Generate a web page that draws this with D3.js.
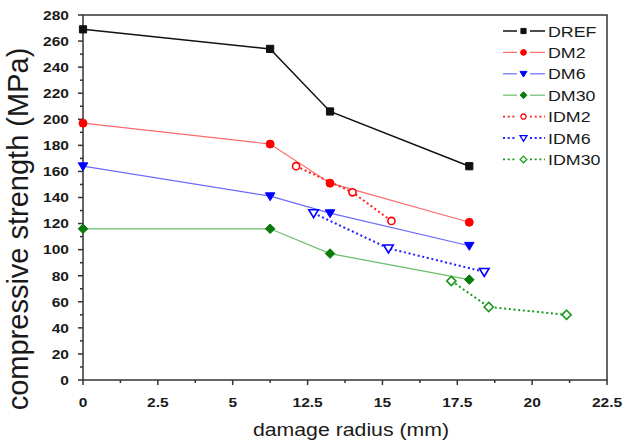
<!DOCTYPE html>
<html>
<head>
<meta charset="utf-8">
<script src="https://cdn.jsdelivr.net/npm/d3@7"></script>
<style>
  body { margin: 0; background: #fff; }
  svg { display: block; font-family: "Liberation Sans", Arial, sans-serif; }
</style>
</head>
<body>
<div id="chart"></div>
<script>
// damage radius (mm), shared by the "DM" series
const radiusDM = [0, 8.75, 13.25, 17.9];
const DREF = [269, 254, 206, 164];
const DM2 = [197, 181, 151, 121];
const DM6 = [164, 141, 128, 103];
const DM30 = [116, 116, 97, 77];

const radiusIDM2 = [11.35, 14.0, 15.3];
const IDM2 = [164, 144, 122];
const radiusIDM6 = [12.7, 15.2, 18.4];
const IDM6 = [128, 101, 83];
const radiusIDM30 = [17.3, 18.55, 21.15];
const IDM30 = [76, 56, 50];

const xTicks = [0, 2.5, 5, 12.5, 15, 17.5, 20, 22.5];
const xMinor = [1.25, 3.75, 8.75, 13.75, 16.25, 18.75, 21.25];
const yTicks = [0, 20, 40, 60, 80, 100, 120, 140, 160, 180, 200, 220, 240, 260, 280];

const series = [
    {name: "DREF", x: radiusDM, y: DREF, color: "#111", line: "#111", width: 1.5, dash: null, shape: "square", r: 3.6, fill: true},
    {name: "DM2", x: radiusDM, y: DM2, color: "#f00", line: "#ff6a6a", width: 1.2, dash: null, shape: "circle", r: 4, fill: true},
    {name: "DM6", x: radiusDM, y: DM6, color: "#00f", line: "#6a6aff", width: 1.2, dash: null, shape: "down", r: 4.8, fill: true},
    {name: "DM30", x: radiusDM, y: DM30, color: "#0a7a0a", line: "#6cbf6c", width: 1.2, dash: null, shape: "diamond", r: 4.8, fill: true},
    {name: "IDM2", x: radiusIDM2, y: IDM2, color: "#f00", line: "#f22", width: 2, dash: "2,2.7", shape: "circle", r: 3.6, fill: false},
    {name: "IDM6", x: radiusIDM6, y: IDM6, color: "#00f", line: "#22f", width: 2, dash: "2,2.7", shape: "down", r: 4.8, fill: false},
    {name: "IDM30", x: radiusIDM30, y: IDM30, color: "#1a9a1a", line: "#1a9a1a", width: 2, dash: "2,2.7", shape: "diamond", r: 4.6, fill: false}
];

const W = 628, H = 447;
const plotLeft = 83, plotRight = 607, plotTop = 15, plotBottom = 380;
const stretch = 1.15;  // text in the original is wider than tall

const svg = d3.select("#chart").append("svg").attr("width", W).attr("height", H);

// broken x axis: 5 -> 12.5 is squeezed into one tick step
const x = d3.scaleLinear().domain([0, 5, 12.5, 22.5]).range([plotLeft, 232.7, 307.6, plotRight]);
const y = d3.scaleLinear().domain([0, 280]).range([plotBottom, plotTop]);

function markerPath(shape, r) {
    if (shape === "down") return `M${-r},${-r * 0.7}L${r},${-r * 0.7}L0,${r * 0.95}Z`;
    if (shape === "diamond") return `M0,${-r}L${r},0L0,${r}L${-r},0Z`;
    if (shape === "square") return `M${-r},${-r}H${r}V${r}H${-r}Z`;
    return d3.symbol().type(d3.symbolCircle).size(Math.PI * r * r)();
}

function addText(g, tx, ty, str, size, anchor, weight) {
    return g.append("text")
        .attr("transform", `translate(${tx},${ty}) scale(${stretch},1)`)
        .attr("text-anchor", anchor)
        .attr("font-size", size)
        .attr("font-weight", weight || "normal")
        .attr("fill", "#1a1a1a")
        .text(str);
}

// frame
svg.append("rect")
    .attr("x", plotLeft).attr("y", plotTop)
    .attr("width", plotRight - plotLeft).attr("height", plotBottom - plotTop)
    .attr("fill", "none").attr("stroke", "#333").attr("stroke-width", 1.5);

// x axis ticks
const xAxis = svg.append("g");
xAxis.selectAll(".maj").data(xTicks).enter().append("line")
    .attr("x1", d => x(d)).attr("x2", d => x(d))
    .attr("y1", plotBottom).attr("y2", plotBottom + 5)
    .attr("stroke", "#333").attr("stroke-width", 1.5);
xAxis.selectAll(".min").data(xMinor).enter().append("line")
    .attr("x1", d => x(d)).attr("x2", d => x(d))
    .attr("y1", plotBottom).attr("y2", plotBottom + 3)
    .attr("stroke", "#333").attr("stroke-width", 1.5);
xTicks.forEach(d => addText(xAxis, x(d), plotBottom + 27, d, 13.5, "middle", "bold"));

// y axis ticks
const yAxis = svg.append("g");
yAxis.selectAll(".maj").data(yTicks).enter().append("line")
    .attr("x1", plotLeft - 5).attr("x2", plotLeft)
    .attr("y1", d => y(d)).attr("y2", d => y(d))
    .attr("stroke", "#333").attr("stroke-width", 1.5);
yAxis.selectAll(".min").data(yTicks.slice(0, -1)).enter().append("line")
    .attr("x1", plotLeft - 3).attr("x2", plotLeft)
    .attr("y1", d => y(d + 10)).attr("y2", d => y(d + 10))
    .attr("stroke", "#333").attr("stroke-width", 1.5);
yTicks.forEach(d => addText(yAxis, plotLeft - 14, y(d) + 4.8, d, 13.5, "end", "bold"));

// axis titles
addText(svg, 351, 436, "damage radius (mm)", 18.5, "middle");
svg.append("text")
    .attr("transform", `translate(28,229) rotate(-90)`)
    .attr("text-anchor", "middle").attr("font-size", 29).attr("fill", "#1a1a1a")
    .text("compressive strength (MPa)");

// lines and markers
const line = d3.line().x(d => x(d[0])).y(d => y(d[1]));
series.forEach(s => {
    const pts = s.x.map((v, i) => [v, s.y[i]]);
    svg.append("path")
        .attr("d", line(pts))
        .attr("fill", "none")
        .attr("stroke", s.line)
        .attr("stroke-width", s.width)
        .attr("stroke-dasharray", s.dash);
});
series.forEach(s => {
    const pts = s.x.map((v, i) => [v, s.y[i]]);
    svg.append("g").selectAll("path").data(pts).enter().append("path")
        .attr("transform", d => `translate(${x(d[0])},${y(d[1])})`)
        .attr("d", markerPath(s.shape, s.r))
        .attr("fill", s.fill ? s.color : "#fff")
        .attr("stroke", s.color)
        .attr("stroke-width", s.fill ? 1 : 1.6);
});

// legend
const legend = svg.append("g").attr("transform", "translate(503,31)");
series.forEach((s, i) => {
    const g = legend.append("g").attr("transform", `translate(0,${i * 21.4})`);
    [[0, 14], [27, 42]].forEach(seg => {
        g.append("line")
            .attr("x1", seg[0]).attr("x2", seg[1])
            .attr("y1", 0).attr("y2", 0)
            .attr("stroke", s.line)
            .attr("stroke-width", s.dash ? 1.8 : s.width)
            .attr("stroke-dasharray", s.dash);
    });
    g.append("path")
        .attr("transform", "translate(20.5,0)")
        .attr("d", markerPath(s.shape, s.r * 0.72))
        .attr("fill", s.fill ? s.color : "#fff")
        .attr("stroke", s.color)
        .attr("stroke-width", s.fill ? 1 : 1.3);
    addText(g, 45, 5.6, s.name, 15.5, "start");
});
</script>
</body>
</html>
